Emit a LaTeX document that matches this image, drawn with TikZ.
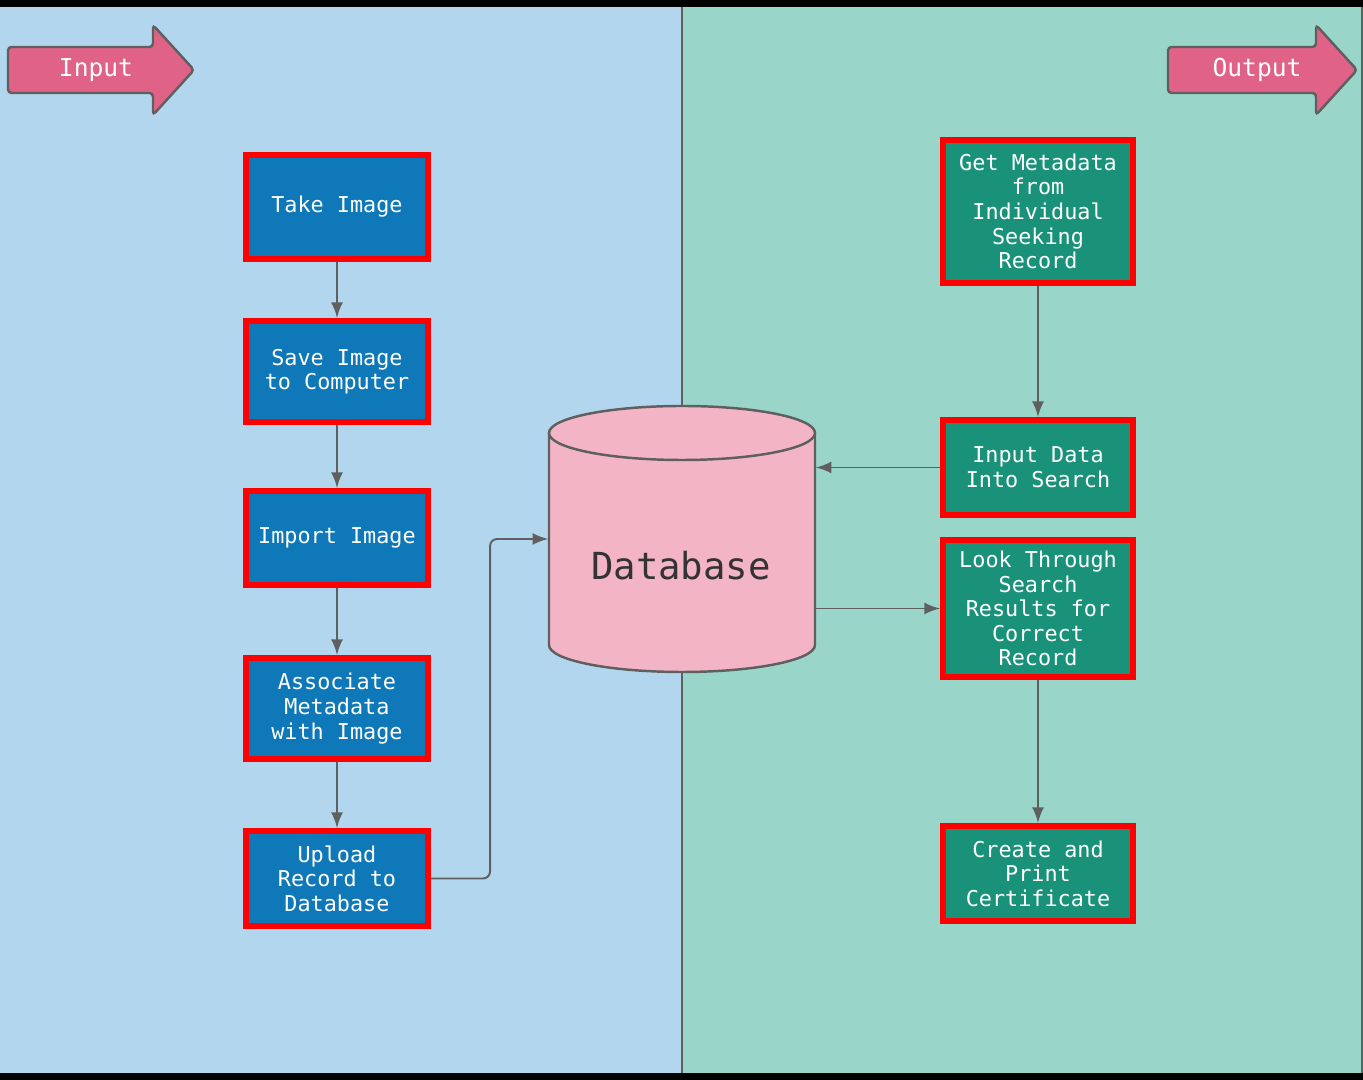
\documentclass[tikz,border=0pt]{standalone}
\usepackage{fontspec}
\setmonofont{DejaVu Sans Mono}
\usepackage{xcolor}
\usepackage{tikz}

\definecolor{leftbg}{RGB}{177,214,238}
\definecolor{rightbg}{RGB}{154,213,202}
\definecolor{arrowpink}{RGB}{224,98,135}
\definecolor{boxblue}{RGB}{14,120,184}
\definecolor{boxgreen}{RGB}{26,146,122}
\definecolor{dbpink}{RGB}{243,180,198}
\definecolor{linegray}{RGB}{95,95,95}
\definecolor{textdark}{RGB}{51,51,51}

\tikzset{
  stepbox/.style={draw=red, line width=1.7pt, text=white, align=center,
    font=\ttfamily\fontsize{6.2}{7}\selectfont, inner sep=0pt},
  leftbox/.style={stepbox, fill=boxblue, minimum width=1.82cm},
  rightbox/.style={stepbox, fill=boxgreen, minimum width=1.90cm},
  flow/.style={draw=linegray, line width=0.55pt, -latex},
  bigarrow/.style={draw=linegray, line width=0.7pt, fill=arrowpink, rounded corners=1pt},
  arrowtext/.style={text=white, font=\ttfamily\fontsize{7}{8}\selectfont}
}

\begin{document}
\begin{tikzpicture}[x=0.01cm, y=-0.01cm]
			\useasboundingbox (0,0) rectangle (1363,1080);
			% Nền hai bên
			\fill[leftbg] (0,7) rectangle (682,1073);
			\fill[rightbg] (682,7) rectangle (1363,1073);
			\draw[linegray, line width=0.6pt] (682,7) -- (682,1073);
			\draw[linegray, line width=0.6pt] (1362,7) -- (1362,1073);
			\fill[black] (0,0) rectangle (1363,7);
			\fill[black] (0,1073) rectangle (1363,1080);
			% Mũi tên Input / Output
			\draw[bigarrow] (8,47) -- (153,47) -- (153,25) -- (194,70) -- (153,115) -- (153,93) -- (8,93) -- cycle;
			\node[arrowtext] (input) at (96,70) {Input};
			\draw[bigarrow] (1168,47) -- (1316,47) -- (1316,25) -- (1357,70) -- (1316,115) -- (1316,93) -- (1168,93) -- cycle;
			\node[arrowtext] (output) at (1257,70) {Output};
			% Cơ sở dữ liệu
			\draw[linegray, line width=0.7pt, fill=dbpink] (549,433) -- (549,645) arc[start angle=180, end angle=0, x radius=133, y radius=27] -- (815,433);
			\draw[linegray, line width=0.7pt, fill=dbpink] (682,433) ellipse [x radius=133, y radius=27];
			\node[minimum width=2.66cm, minimum height=2.66cm, inner sep=0pt] (db) at (682,539) {};
			\node[text=textdark, font=\ttfamily\fontsize{10.6}{12}\selectfont] (dblabel) at (681,566) {Database};
			% Cột trái
			\node[leftbox, minimum height=1.04cm] (take) at (337,207) {Take Image};
			\node[leftbox, minimum height=1.01cm] (save) at (337,371.5) {Save Image\\to Computer};
			\node[leftbox, minimum height=0.94cm] (import) at (337,538) {Import Image};
			\node[leftbox, minimum height=1.01cm] (assoc) at (337,708.5) {Associate\\Metadata\\with Image};
			\node[leftbox, minimum height=0.95cm] (upload) at (337,878.5) {Upload\\Record to\\Database};
			% Cột phải
			\node[rightbox, minimum height=1.43cm] (getmeta) at (1038,211.5) {Get Metadata\\from\\Individual\\Seeking\\Record};
			\node[rightbox, minimum height=0.95cm] (search) at (1038,467.5) {Input Data\\Into Search};
			\node[rightbox, minimum height=1.37cm] (look) at (1038,608.5) {Look Through\\Search\\Results for\\Correct\\Record};
			\node[rightbox, minimum height=0.95cm] (cert) at (1038,873.5) {Create and\\Print\\Certificate};
			% Mũi tên nối
			\draw[flow] (take) -- (save);
			\draw[flow] (save) -- (import);
			\draw[flow] (import) -- (assoc);
			\draw[flow] (assoc) -- (upload);
			\draw[flow, rounded corners=2pt] (upload.east) -- ++(59,0) |- (db.west);
			\draw[flow] (getmeta) -- (search);
			\draw[flow] (search.west) -- (search.west -| db.east);
			\draw[flow] (db.east |- look.west) -- (look.west);
			\draw[flow] (look) -- (cert);
		\end{tikzpicture}
\end{document}
